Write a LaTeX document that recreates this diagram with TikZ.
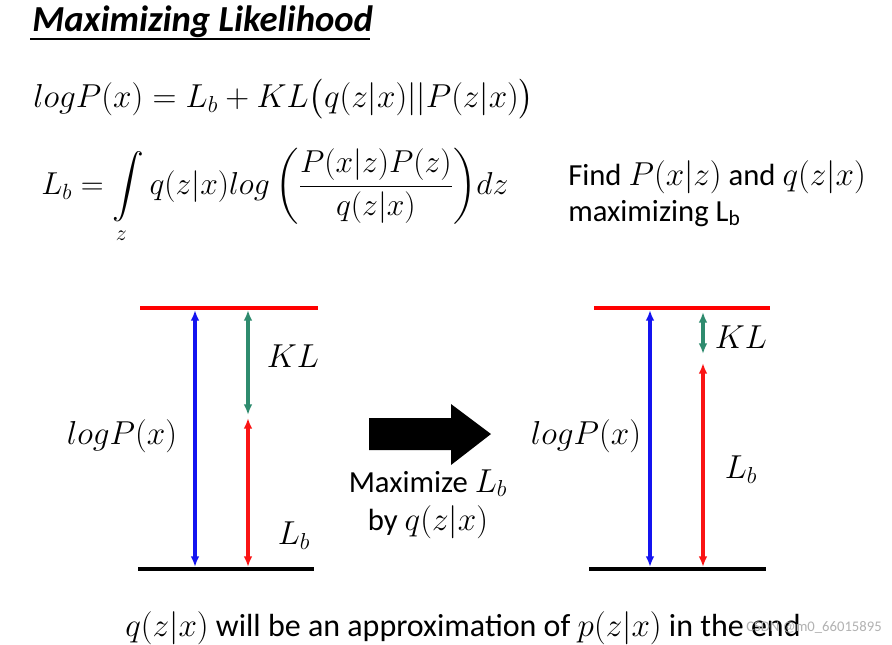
\documentclass[tikz,border=0pt]{standalone}
\usepackage{amsmath}
\usepackage{exscale}
\usepackage{graphicx}
\usepackage{fontspec}
\setmainfont{Carlito}
\usetikzlibrary{arrows.meta}
\definecolor{klgreen}{RGB}{46,139,110}
\definecolor{lbred}{RGB}{250,20,20}
\definecolor{lpblue}{RGB}{20,20,240}
\tikzset{
  px/.style={x=0.75pt,y=-0.75pt},
  level/.style={line width=2.8pt},
  dbl/.style={line width=2.3pt,{Latex[length=8pt,width=6.5pt]}-{Latex[length=8pt,width=6.5pt]}},
  lbl/.style={inner sep=0pt,font=\fontsize{23}{27}\selectfont},
  lpl/.style={inner sep=0pt,font=\fontsize{25}{29}\selectfont},
  txt/.style={inner sep=0pt,font=\fontsize{23}{27}\selectfont},
}
\begin{document}
\begin{tikzpicture}[px]
\useasboundingbox[fill=white] (0,0) rectangle (892,644);
% title
\node[inner sep=0pt,anchor=base west,font=\fontsize{27.5}{32}\selectfont\bfseries\itshape] (title) at (32,31) {Maximizing Likelihood};
\draw[line width=1.4pt] (30,39) -- (370,39);
% equations
\node[inner sep=0pt,anchor=west,font=\fontsize{23}{28}\selectfont] (eq1) at (33,99) {$log P(x) = L_b + KL\bigl(q(z|x)||P(z|x)\bigr)$};
\node[inner sep=0pt,anchor=west,font=\fontsize{23}{28}\selectfont] (eq2) at (41,196) {\scalebox{0.955}{$\displaystyle L_b = \int\limits_{z} q(z|x) log\left(\frac{P(x|z)P(z)}{q(z|x)}\right)\!dz$}};
\node[txt,anchor=base west] (find) at (568,185) {Find $P(x|z)$ and $q(z|x)$};
\node[txt,anchor=base west] (maxi) at (568,221) {maximizing L\textsubscript{b}};
% left diagram
\coordinate (LtA) at (140,308); \coordinate (LtB) at (318,308);
\coordinate (LbA) at (138,569); \coordinate (LbB) at (314,569);
\draw[level,red] (LtA) -- (LtB);
\draw[level,black] (LbA) -- (LbB);
\coordinate (L1t) at (195,310); \coordinate (L1b) at (195,567);
\coordinate (L2t) at (248,310); \coordinate (L2m) at (248,415);
\coordinate (L3t) at (248,418); \coordinate (L3b) at (248,567);
\draw[dbl,lpblue] (L1t) -- (L1b);
\draw[dbl,klgreen] (L2t) -- (L2m);
\draw[dbl,lbred] (L3t) -- (L3b);
\node[lbl] (lkl) at (293,356) {$KL$};
\node[lpl] (llp) at (122,436) {$logP(x)$};
\node[lbl] (llb) at (294,536) {$L_b$};
% big arrow
\fill (369,418) -- (451,418) -- (451,404) -- (491,434) -- (451,465) -- (451,450) -- (369,450) -- cycle;
\node[txt,anchor=base] (m1) at (428,492) {Maximize $L_b$};
\node[txt,anchor=base] (m2) at (428,530) {by $q(z|x)$};
% right diagram
\coordinate (RtA) at (594,308); \coordinate (RtB) at (770,308);
\coordinate (RbA) at (589,569); \coordinate (RbB) at (766,569);
\draw[level,red] (RtA) -- (RtB);
\draw[level,black] (RbA) -- (RbB);
\coordinate (R1t) at (650,310); \coordinate (R1b) at (650,567);
\coordinate (R2t) at (703,312); \coordinate (R2m) at (703,354);
\coordinate (R3t) at (703,363); \coordinate (R3b) at (703,567);
\draw[dbl,lpblue] (R1t) -- (R1b);
\draw[dbl,klgreen] (R2t) -- (R2m);
\draw[dbl,lbred] (R3t) -- (R3b);
\node[lbl] (rkl) at (741,337) {$KL$};
\node[lpl] (rlp) at (586,436) {$logP(x)$};
\node[lbl] (rlb) at (741,470) {$L_b$};
% bottom
\node[inner sep=0pt,anchor=base,font=\fontsize{24}{28}\selectfont] (bottom) at (463,636) {$q(z|x)$ will be an approximation of $p(z|x)$ in the end};
\node[inner sep=0pt,anchor=base,font=\fontsize{11}{13}\selectfont,text=gray!60] (wm) at (814,631) {CSDN @m0\_66015895};
\end{tikzpicture}
\end{document}
